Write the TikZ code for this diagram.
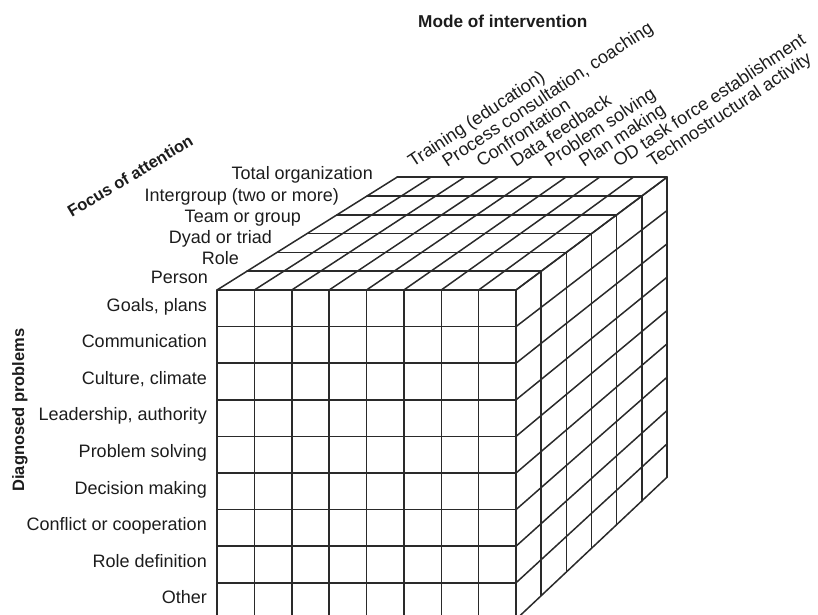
\documentclass[tikz,border=0pt]{standalone}
\usepackage{fontspec}
\setmainfont{Liberation Sans}
\definecolor{ink}{HTML}{2A2A2A}
\definecolor{txt}{HTML}{1C1C1C}
\begin{document}
\begin{tikzpicture}[x=1pt,y=-1pt,
  grid/.style={draw=ink, line width=1.5pt, line cap=round},
  lab/.style={font=\fontsize{18}{20}\selectfont, text=txt, inner sep=0pt},
  ttl/.style={font=\fontsize{16.5}{19}\selectfont\bfseries, text=txt, inner sep=0pt}]
\useasboundingbox (0,0) rectangle (818,614);
\clip (0,0) rectangle (818,614);
% lattice points: layer j (depth), column c, row r
\foreach \j in {0,...,6}{
  \foreach \c in {0,...,8}{
    \foreach \r in {0,...,9}{
      \coordinate (p\j-\c-\r) at ({217+30*\j+\c*(299-4.83*\j)/8},{290-18.8*\j+\r*(329.4-4.9*\j)/9});
    }}}
% front face
\foreach \c in {0,...,8} \draw[grid] (p0-\c-0) -- (p0-\c-9);
\foreach \r in {0,...,9} \draw[grid] (p0-0-\r) -- (p0-8-\r);
% top face
\foreach \j in {1,...,6} \draw[grid] (p\j-0-0) -- (p\j-8-0);
\foreach \c in {0,...,8} \draw[grid] (p0-\c-0) -- (p6-\c-0);
% right face
\foreach \j in {1,...,6} \draw[grid] (p\j-8-0) -- (p\j-8-9);
\foreach \r in {0,...,9} \draw[grid] (p0-8-\r) -- (p6-8-\r);
% titles
\node[ttl, font=\fontsize{17.2}{19}\selectfont\bfseries, anchor=base west] (mode) at (418,27) {Mode of intervention};
\node[ttl, rotate=31] (focus) at (130,176) {Focus of attention};
\node[ttl, rotate=90] (diag) at (20,410) {Diagnosed problems};
% modes of intervention
\foreach \t [count=\k from 0] in {Training (education),{Process consultation, coaching},Confrontation,Data feedback,Problem solving,Plan making,OD task force establishment,Technostructural activity}
  \node[lab, rotate=33.5, anchor=base west] (mode\k) at ({413+34.2*\k},168) {\t};
% focus of attention
\node[lab, anchor=base east] (f0) at (208,283) {Person};
\node[lab, anchor=base east] (f1) at (239,264) {Role};
\node[lab, anchor=base east] (f2) at (272,243) {Dyad or triad};
\node[lab, anchor=base east] (f3) at (301,222) {Team or group};
\node[lab, anchor=base east] (f4) at (339,201) {Intergroup (two or more)};
\node[lab, anchor=base east] (f5) at (373,179) {Total organization};
% diagnosed problems
\foreach \t [count=\i from 0] in {{Goals, plans},Communication,{Culture, climate},{Leadership, authority},Problem solving,Decision making,Conflict or cooperation,Role definition,Other}
  \node[lab, anchor=base east] (d\i) at (207,{311+36.6*\i}) {\t};
\end{tikzpicture}
\end{document}
